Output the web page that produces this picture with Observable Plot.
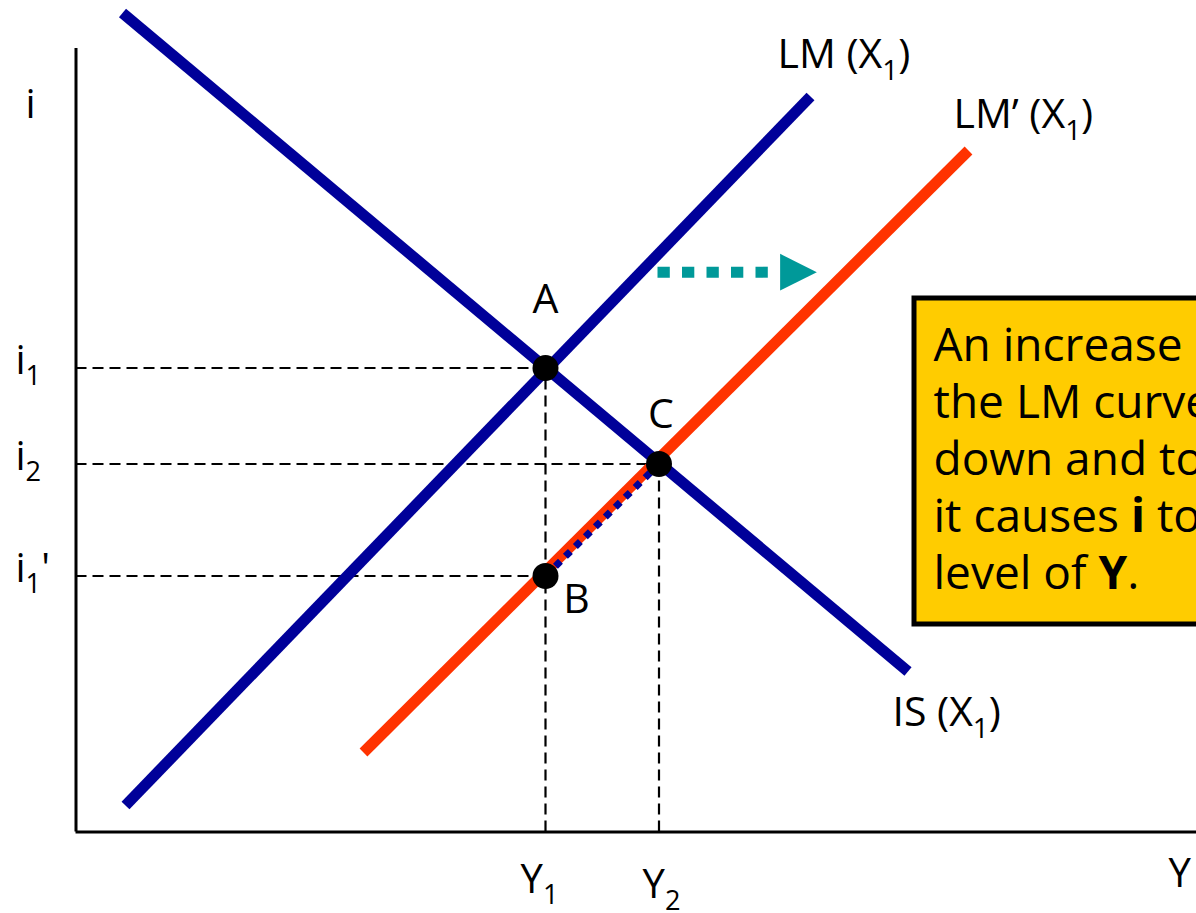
<!DOCTYPE html>
<html>
<head>
<meta charset="utf-8">
<script src="https://cdn.jsdelivr.net/npm/d3@7"></script>
<script src="https://cdn.jsdelivr.net/npm/@observablehq/plot@0.6"></script>
<style>
  html, body { margin: 0; padding: 0; background: #fff; overflow: hidden; }
  #chart svg { display: block; }
</style>
</head>
<body>
<div id="chart"></div>
<script>
// IS–LM diagram: an increase in X shifts the LM curve down and to the right (LM -> LM').

// ---- data -------------------------------------------------------------
// Curve end points, as [Y, i]
const isCurve   = [[4.65, 81.9], [83.2, 16.05]];
const lmCurve   = [[4.95, 2.65], [73.45, 73.55]];
const lmShifted = [[28.75, 7.95], [89.25, 68.15]];

// Equilibria
const pointNames = ["A", "B", "C"];
const pointY     = [46.95, 46.95, 58.3];
const pointI     = [46.4, 25.6, 36.8];

// Interest-rate levels (A, C, B) and their labels
const rateLabels = ["i_{1}", "i_{2}", "i_{1}'"];
const rateValues = [46.4, 36.8, 25.6];
const rateReachY = [46.95, 58.3, 46.95];

// Output levels and their labels
const outputLabels = ["Y_{1}", "Y_{2}"];
const outputValues = [46.95, 58.3];
const outputReachI = [46.4, 36.8];

// Curve names
const curveLabels = ["LM (X_{1})", "LM’ (X_{1})", "IS (X_{1})"];

// Axis extents and names
const axisTopI   = 78.35;
const axisRightY = 113;
const axisNames  = ["i", "Y"];

// Shift arrow: from, to (on Y), at level i
const shiftFrom = 58.15, shiftTo = 69.25, shiftHead = 72.25, shiftI = 55.98;

// Explanatory note
const noteLines = [
  "An increase in M shifts",
  "the LM curve",
  "down and to the right;",
  "it causes **i** to fall and raises the",
  "level of **Y**."
];

// ---- styling ----------------------------------------------------------
const FONT = "'Open Sans', sans-serif";
const NAVY = "#000099", RED = "#ff3300", TEAL = "#009999", GOLD = "#ffcc00";

const points = pointNames.map((name, k) => ({name, Y: pointY[k], i: pointI[k]}));
const seg = (pts) => pts.map(([Y, i]) => ({Y, i}));

// right-pointing filled triangle for the arrow head
const rightTriangle = {
  draw(context, size) {
    const s = Math.sqrt(size) / 2;
    context.moveTo(s, 0);
    context.lineTo(-s, -s);
    context.lineTo(-s, s);
    context.closePath();
  }
};

const pointLabel = (name, dx, dy) =>
  Plot.text(points.filter(d => d.name === name), {x: "Y", y: "i", text: "name",
    fontSize: 41, fill: "black", lineAnchor: "bottom", textAnchor: "middle", dx, dy});

const chart = Plot.plot({
  width: 1196,
  height: 913,
  margin: 0,
  x: {type: "linear", domain: [0, 100], range: [75.5, 1075.5], axis: null},
  y: {type: "linear", domain: [0, 100], range: [831.5, -168.5], axis: null},
  style: {fontFamily: FONT, background: "white"},
  marks: [
    // axes
    Plot.ruleX([0], {y1: 0, y2: axisTopI, stroke: "black", strokeWidth: 3}),
    Plot.ruleY([0], {x1: 0, x2: axisRightY, stroke: "black", strokeWidth: 3}),

    // dashed guides to the axes
    Plot.ruleY(rateValues, {x1: 0, x2: (d, k) => rateReachY[k], y: d => d,
      stroke: "black", strokeWidth: 2.2, strokeDasharray: "11,6"}),
    Plot.ruleX(outputValues, {x: d => d, y1: 0, y2: (d, k) => outputReachI[k],
      stroke: "black", strokeWidth: 2.2, strokeDasharray: "11,6"}),

    // curves
    Plot.line(seg(lmShifted), {x: "Y", y: "i", stroke: RED, strokeWidth: 11, strokeLinecap: "butt"}),
    Plot.line(seg(lmCurve), {x: "Y", y: "i", stroke: NAVY, strokeWidth: 11, strokeLinecap: "butt"}),
    Plot.line(seg(isCurve), {x: "Y", y: "i", stroke: NAVY, strokeWidth: 11, strokeLinecap: "butt"}),

    // movement B -> C along LM'
    Plot.line([points[1], points[2]], {x: "Y", y: "i", stroke: NAVY, strokeWidth: 7,
      strokeDasharray: "7,7", strokeLinecap: "butt"}),

    // shift arrow
    Plot.link([0], {x1: () => shiftFrom, x2: () => shiftTo, y1: () => shiftI, y2: () => shiftI,
      stroke: TEAL, strokeWidth: 11, strokeDasharray: "12.3,12.2", strokeLinecap: "butt"}),
    Plot.dot([0], {x: () => shiftHead, y: () => shiftI, symbol: rightTriangle,
      r: 20.7, fill: TEAL, stroke: "none"}),

    // equilibrium points
    Plot.dot(points, {x: "Y", y: "i", r: 13, fill: "black", stroke: "none"}),

    // point labels
    pointLabel("A", 0, -55),
    pointLabel("B", 31, 37),
    pointLabel("C", 2, -36),

    // interest-rate tick labels
    Plot.text(rateLabels, {x: () => -6.05, y: (d, k) => rateValues[k], text: d => d,
      fontSize: 40, fill: "black", textAnchor: "start", lineAnchor: "bottom", dy: 5.5}),

    // output tick labels
    Plot.text(outputLabels, {x: (d, k) => outputValues[k] + [-2.5, -1.65][k],
      y: (d, k) => [-6.05, -6.6][k], text: d => d,
      fontSize: 40, fill: "black", textAnchor: "start", lineAnchor: "bottom"}),

    // axis names
    Plot.text([axisNames[0]], {x: () => -4.55, y: () => 71.45, text: d => d,
      fontSize: 40, fill: "black", textAnchor: "middle", lineAnchor: "bottom"}),
    Plot.text([axisNames[1]], {x: () => 109.25, y: () => -5.45, text: d => d,
      fontSize: 40, fill: "black", textAnchor: "start", lineAnchor: "bottom"}),

    // curve names
    Plot.text(curveLabels, {
      x: (d, k) => [70.15, 87.75, 81.65][k],
      y: (d, k) => [76.45, 70.45, 10.65][k],
      text: d => d, fontSize: 41, fill: "black", textAnchor: "start", lineAnchor: "bottom"}),

    // explanatory note
    Plot.rect([0], {x1: () => 83.85, x2: () => 130, y1: () => 20.75, y2: () => 53.35,
      fill: GOLD, stroke: "black", strokeWidth: 5}),
    Plot.text(noteLines, {x: () => 85.75, y: (d, k) => 47.15 - k * 5.72, text: d => d,
      fontSize: 46, fill: "black", textAnchor: "start", lineAnchor: "bottom"})
  ]
});

// Turn "_{..}" into subscripts and "**..**" into bold runs.
const SVGNS = "http://www.w3.org/2000/svg";
chart.querySelectorAll("text").forEach(t => {
  const s = t.textContent;
  if (!/_\{|\*\*/.test(s)) return;
  const parts = s.split(/(_\{[^}]*\}|\*\*[^*]*\*\*)/).filter(p => p !== "");
  t.textContent = "";
  let lowered = false;
  for (const p of parts) {
    const ts = document.createElementNS(SVGNS, "tspan");
    if (p.startsWith("_{")) {
      ts.textContent = p.slice(2, -1);
      ts.style.fontSize = "68%";
      ts.setAttribute("dy", "0.43em");
      lowered = true;
    } else {
      if (p.startsWith("**")) {
        ts.textContent = p.slice(2, -2);
        ts.style.fontWeight = "bold";
      } else {
        ts.textContent = p;
      }
      if (lowered) { ts.setAttribute("dy", "-0.2925em"); lowered = false; }
    }
    t.appendChild(ts);
  }
});

document.getElementById("chart").appendChild(chart);
</script>
</body>
</html>
